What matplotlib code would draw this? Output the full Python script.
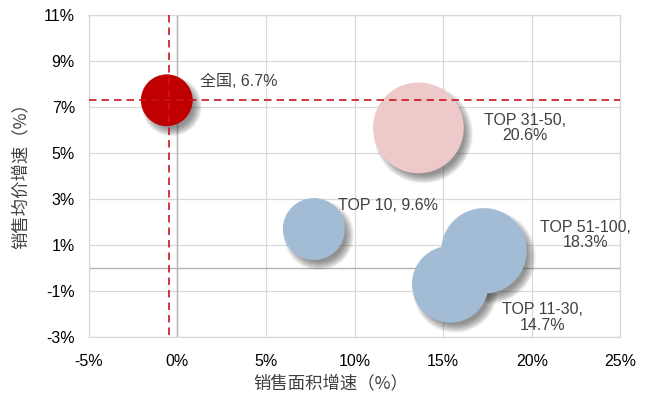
import numpy as np
import matplotlib
matplotlib.use("Agg")
import matplotlib.pyplot as plt
import matplotlib.transforms as mtransforms

plt.rcParams['font.family'] = ['Liberation Sans', 'Noto Sans CJK SC', 'DejaVu Sans']

# 数据：销售面积增速、销售均价增速、气泡大小（标签值）
names = ['全国', 'TOP 10', 'TOP 11-30', 'TOP 31-50', 'TOP 51-100']
area_growth = [-0.6, 7.7, 15.4, 13.6, 17.3]
price_growth = [7.3, 1.7, -0.7, 6.1, 0.75]
share = [6.7, 9.6, 14.7, 20.6, 18.3]
colors = ['#C00000', '#A2BCD6', '#A2BCD6', '#EDC9C9', '#A2BCD6']
labels = ['全国, 6.7%', 'TOP 10, 9.6%', 'TOP 11-30,\n14.7%', 'TOP 31-50,\n20.6%', 'TOP 51-100,\n18.3%']

# 参考线（全国）
ref_x = -0.5
ref_y = 7.3

xticks = [-5, 0, 5, 10, 15, 20, 25]
yticks = [-3, -1, 1, 3, 5, 7, 9, 11]

fig = plt.figure(figsize=(6.53, 3.99), dpi=100)
ax = fig.add_axes([0.136, 0.155, 0.814, 0.807])

ax.set_xlim(-5, 25)
ax.set_ylim(-3, 11)
ax.set_xticks(xticks)
ax.set_yticks(yticks)
ax.set_xticklabels([f'{t}%' for t in xticks], fontsize=11.5)
ax.set_yticklabels([f'{t}%' for t in yticks], fontsize=11.5)
ax.tick_params(length=0, pad=10)
ax.tick_params(axis='x', pad=12)

ax.grid(True, color='#D9D9D9', linewidth=0.9, zorder=0)
ax.set_axisbelow(True)
for s in ax.spines.values():
    s.set_color('#D9D9D9')
    s.set_linewidth(0.9)
ax.axhline(0, color='#B4B4B4', linewidth=1.0, zorder=1)
ax.axvline(0, color='#B4B4B4', linewidth=1.0, zorder=1)

# 气泡面积与数值成正比（直径约 20*sqrt(v) 像素）
diam_px = 20 * np.sqrt(share)
sizes = (diam_px * 0.72) ** 2

# 阴影：向右下偏移，多层半透明圆模拟模糊
shift = mtransforms.ScaledTranslation(5 / 100, -6 / 100, fig.dpi_scale_trans)
for b in np.arange(-4, 5, 1.0):
    ax.scatter(area_growth, price_growth, s=((diam_px + 2 * b) * 0.72) ** 2,
               color='#303030', alpha=0.075, linewidths=0, zorder=2,
               transform=ax.transData + shift)

ax.scatter(area_growth, price_growth, s=sizes, c=colors, linewidths=0, zorder=3)

ax.axhline(ref_y, color='#C8161D', linewidth=1.2, linestyle=(0, (4.5, 3)), zorder=4)
ax.plot([ref_x, ref_x], [-2.9, 11], color='#C8161D', linewidth=1.2,
        linestyle=(0, (4.5, 3)), zorder=4)

# 数据标签位置（相对气泡中心，像素偏移）
offsets = [(33, 19), (24, 24), (92, -33), (107, 0), (102, 16)]
aligns = ['left', 'left', 'center', 'center', 'center']
for x, y, lab, off, ha in zip(area_growth, price_growth, labels, offsets, aligns):
    ax.annotate(lab, (x, y), xytext=off, textcoords='offset pixels',
                ha=ha, va='center', fontsize=11.5, color='#404040',
                linespacing=1.05, zorder=5)

ax.set_xlabel('销售面积增速（%）', fontsize=12.5, color='#404040',
              family=['Noto Sans CJK SC', 'DejaVu Sans'])
ax.set_ylabel('销售均价增速（%）', fontsize=12.5, color='#404040',
              family=['Noto Sans CJK SC', 'DejaVu Sans'])
ax.xaxis.set_label_coords(0.455, -0.143)
ax.xaxis.label.set_va('center')
ax.yaxis.set_label_coords(-0.129, 0.514)
ax.yaxis.label.set_va('center')

fig.savefig('out.png', dpi=100)
